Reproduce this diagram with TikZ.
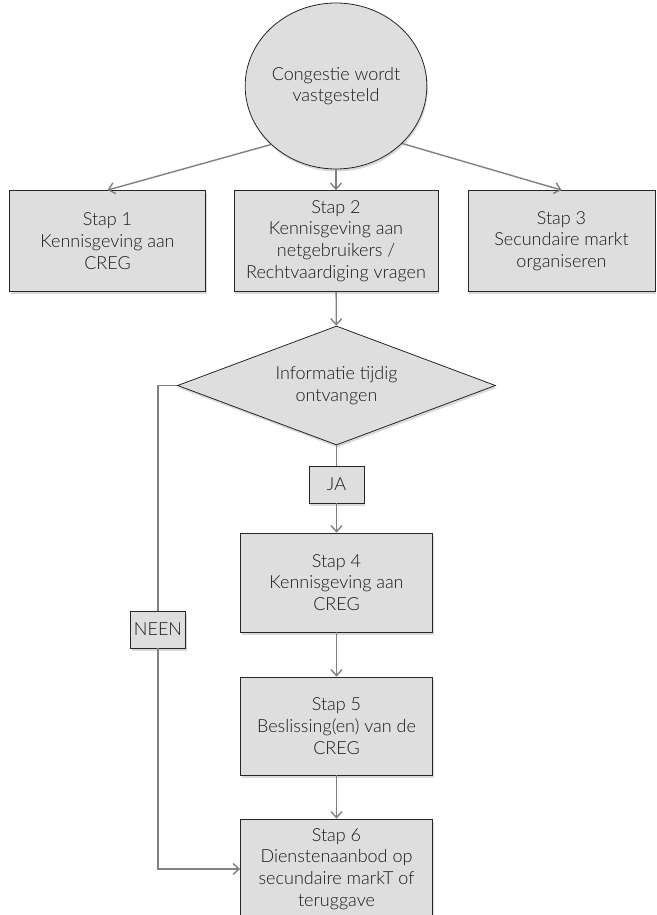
\documentclass[tikz,border=0pt]{standalone}
\usepackage{fontspec}
\setmainfont{Lato Light}
\usetikzlibrary{shapes.geometric,arrows.meta,shadows}

\begin{document}
\begin{tikzpicture}[x=1pt,y=-1pt,>={Straight Barb[length=6pt,width=11pt]},
   blok/.style={draw=black!85,fill=black!13,line width=0.8pt,align=center,inner sep=0pt,
     text=black!90,drop shadow={shadow xshift=1pt,shadow yshift=-2.5pt,opacity=0.3}},
   lijn/.style={draw=black!50,line width=1.4pt},
   pijl/.style={lijn,->},
   font=\fontsize{18}{21.7}\selectfont]
   \useasboundingbox (0,0) rectangle (656,915);

   % begin
   \node [blok,ellipse,minimum width=180pt,minimum height=166pt] (start) at (336,86) {Congestie wordt\\vastgesteld};

   % stappen 1-3
   \node [blok,minimum width=196pt,minimum height=101pt] (s1) at (107.5,241) {Stap 1\\Kennisgeving aan\\CREG};
   \node [blok,minimum width=204pt,minimum height=101pt] (s2) at (336,241) {Stap 2\\Kennisgeving aan\\netgebruikers /\\Rechtvaardiging vragen};
   \node [blok,minimum width=187pt,minimum height=101pt] (s3) at (561.5,241) {Stap 3\\Secundaire markt\\organiseren};

   % beslissing
   \node [blok,diamond,aspect=2.67,minimum width=318pt,minimum height=119pt,drop shadow={opacity=0}] (vraag) at (336.5,385.5) {Informatie tijdig\\ontvangen};
   \node [blok,minimum width=55pt,minimum height=37pt] (ja) at (336.5,484.5) {JA};
   \node [blok,minimum width=55pt,minimum height=37pt] (neen) at (158,629.5) {NEEN};

   % stappen 4-6
   \node [blok,minimum width=192pt,minimum height=99pt] (s4) at (336.5,582.5) {Stap 4\\Kennisgeving aan\\CREG};
   \node [blok,minimum width=192pt,minimum height=98pt] (s5) at (336.5,726) {Stap 5\\Beslissing(en) van de\\CREG};
   \node [blok,minimum width=192pt,minimum height=100pt] (s6) at (336.5,869) {Stap 6\\Dienstenaanbod op\\secundaire markT of\\teruggave};

   % pijlen
   \draw [pijl] (start.222) -- (s1.north);
   \draw [pijl] (start) -- (s2);
   \draw [pijl] (start.-41) -- (s3.north);
   \draw [pijl] (s2) -- (vraag);
   \draw [lijn] (vraag) -- (ja);
   \draw [pijl] (ja) -- (s4);
   \draw [pijl] (s4) -- (s5);
   \draw [pijl] (s5) -- (s6);
   \draw [lijn] (vraag.west) -| (neen.north);
   \draw [pijl] (neen.south) |- (s6.west);
\end{tikzpicture}
\end{document}
